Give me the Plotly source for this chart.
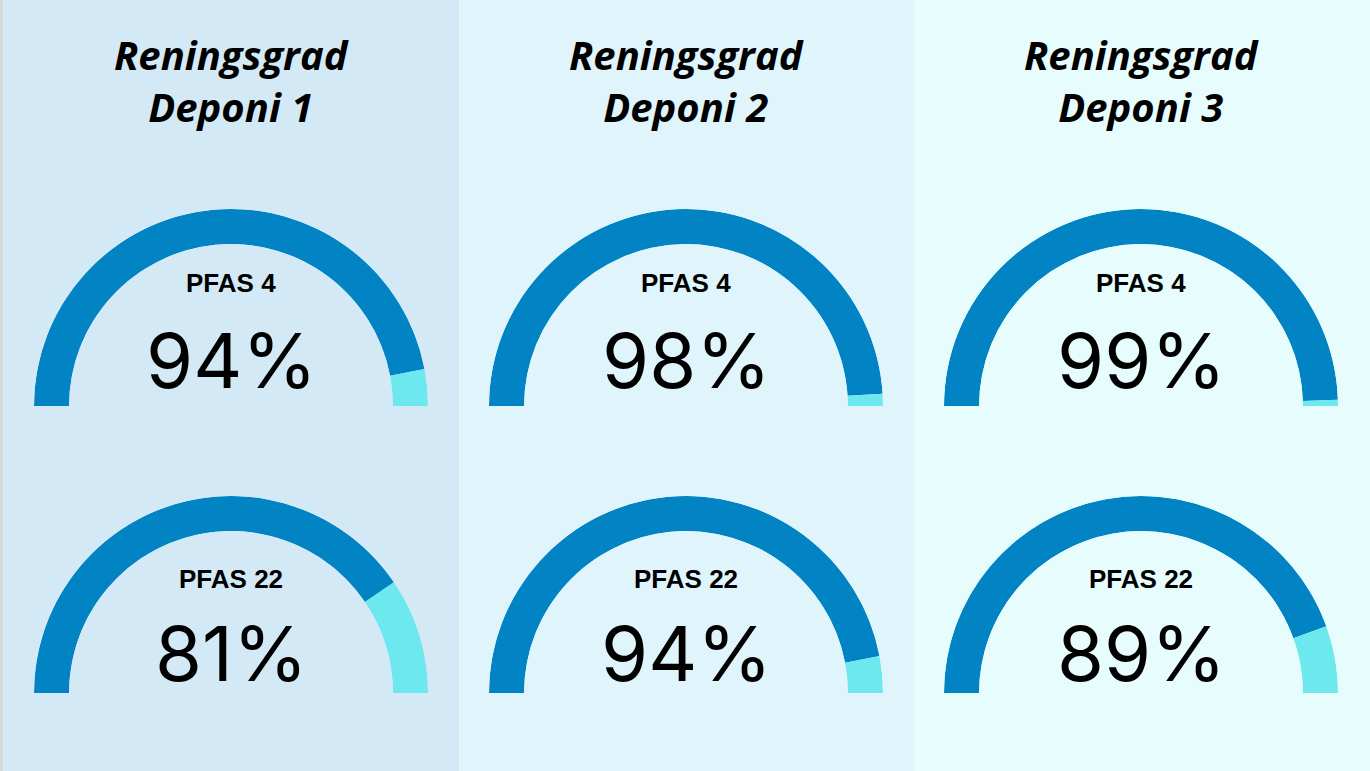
import plotly.graph_objects as go

# data
deponier = ["Deponi 1", "Deponi 2", "Deponi 3"]
title_prefix = "Reningsgrad"
rows = ["PFAS 4", "PFAS 22"]
pfas4 = [94, 98, 99]
pfas22 = [81, 94, 89]

W, H = 1370, 771
col_cx = [231, 686, 1141]
row_cy = [406, 693]  # baseline of each half gauge (px from top)
label_y = [283, 579]
pct_y = [360, 653]
R = 197

dark = "#0284c4"
light = "#6de8ee"
bg_cols = ["#d3eaf6", "#dff4fb", "#e6fcfd"]
col_edges = [3, 459, 914, W]

fig = go.Figure()


def px_x(x):
    return x / W


def px_y(y):
    return 1 - y / H


polars = {}
k = 0
for r, values in enumerate([pfas4, pfas22]):
    for c, v in enumerate(values):
        k += 1
        name = "polar" if k == 1 else f"polar{k}"
        cx, cy = col_cx[c], row_cy[r]
        # gauge spans 180 degrees: filled part = v% of that
        a = v * 1.8
        fig.add_trace(go.Barpolar(
            r=[1, 1],
            theta=[a / 2, a + (180 - a) / 2],
            width=[a, 180 - a],
            marker=dict(color=[dark, light], line=dict(width=0)),
            hoverinfo="skip",
            showlegend=False,
            subplot=name,
        ))
        polars[name] = dict(
            domain=dict(x=[px_x(cx - R), px_x(cx + R)], y=[px_y(cy), px_y(cy - R)]),
            sector=[0, 180],
            hole=0.822,
            bgcolor="rgba(0,0,0,0)",
            radialaxis=dict(range=[0, 1], visible=False),
            angularaxis=dict(visible=False, direction="clockwise", rotation=180),
        )
        fig.add_annotation(x=px_x(cx), y=px_y(label_y[r]), xref="paper", yref="paper",
                           xanchor="center", yanchor="middle",
                           text=f"<b>{rows[r]}</b>", showarrow=False,
                           font=dict(family="Liberation Sans, Arial", size=26, color="black"))
        fig.add_annotation(x=px_x(cx), y=px_y(pct_y[r]), xref="paper", yref="paper",
                           xanchor="center", yanchor="middle",
                           text=f"{v}%", showarrow=False,
                           font=dict(family="Inter, Open Sans", size=76, color="black"))

for c, name in enumerate(deponier):
    fig.add_annotation(x=px_x(col_cx[c]), y=px_y(81), xref="paper", yref="paper",
                       xanchor="center", yanchor="middle",
                       text=f"<b><i>{title_prefix}<br>{name}</i></b>", showarrow=False,
                       font=dict(family="Open Sans", size=40, color="black"))

shapes = [dict(type="rect", xref="paper", yref="paper", x0=0, x1=px_x(3), y0=0, y1=1,
               fillcolor="#d8d8d8", line=dict(width=0), layer="below")]
for c in range(3):
    shapes.append(dict(type="rect", xref="paper", yref="paper",
                       x0=px_x(col_edges[c]), x1=px_x(col_edges[c + 1]), y0=0, y1=1,
                       fillcolor=bg_cols[c], line=dict(width=0), layer="below"))

fig.update_layout(
    width=W, height=H,
    margin=dict(l=0, r=0, t=0, b=0),
    paper_bgcolor="white",
    plot_bgcolor="white",
    shapes=shapes,
    bargap=0,
    **polars,
)

fig.write_html("out.html", config={"displayModeBar": False},
               post_script="document.body.style.margin='0';")
